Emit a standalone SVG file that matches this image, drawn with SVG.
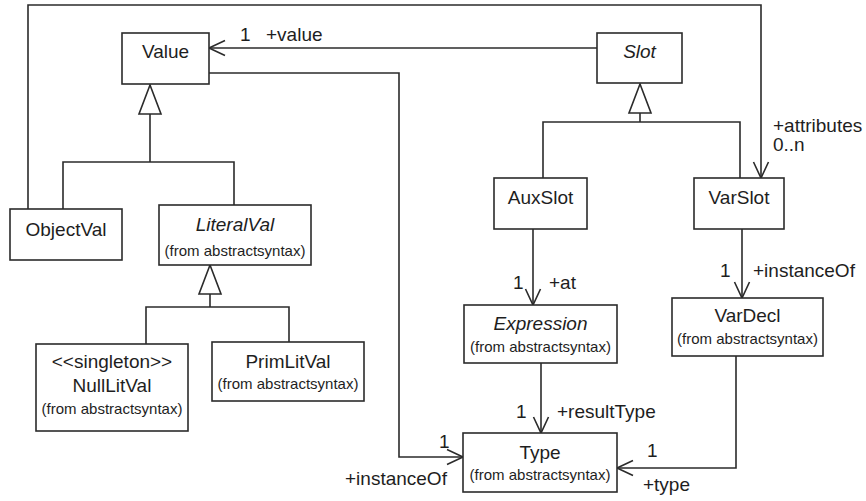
<svg xmlns="http://www.w3.org/2000/svg" width="866" height="501" viewBox="0 0 866 501">
  <style>
    .box { fill: #ffffff; stroke: #2b2b2b; stroke-width: 1.6; }
    .edge { fill: none; stroke: #2b2b2b; stroke-width: 1.6; }
    text { font-family: "Liberation Sans", Arial, sans-serif; fill: #1e1e1e; }
    .name { font-size: 19px; text-anchor: middle; }
    .abs { font-style: italic; }
    .pkg { font-size: 15px; text-anchor: middle; }
    .lbl { font-size: 19px; }
  </style>
  <defs>
    <marker id="open" markerUnits="userSpaceOnUse" markerWidth="20" markerHeight="20" viewBox="-18 -10 20 20" refX="0" refY="0" orient="auto">
      <path d="M -16 -7.5 L 0 0 L -16 7.5" fill="none" stroke="#2b2b2b" stroke-width="1.6"/>
    </marker>
    <marker id="gen" markerUnits="userSpaceOnUse" markerWidth="34" markerHeight="28" viewBox="-32 -13 34 26" refX="0" refY="0" orient="auto">
      <path d="M 0 0 L -29 -11 L -29 11 Z" fill="#ffffff" stroke="#2b2b2b" stroke-width="1.6"/>
    </marker>
  </defs>

  <!-- connectors -->
  <g id="connectors">
    <!-- generalizations -->
    <path class="edge" d="M 63 209 V 162 H 234 V 205"/>
    <path class="edge" d="M 150 162 V 85" marker-end="url(#gen)"/>
    <path class="edge" d="M 146 344 V 307 H 289 V 342"/>
    <path class="edge" d="M 210 307 V 265" marker-end="url(#gen)"/>
    <path class="edge" d="M 543 178 V 122 H 740 V 178"/>
    <path class="edge" d="M 640 122 V 84" marker-end="url(#gen)"/>
    <!-- associations -->
    <path class="edge" d="M 597 48 H 209" marker-end="url(#open)"/>
    <path class="edge" d="M 28 209 V 5 H 761 V 178" marker-end="url(#open)"/>
    <path class="edge" d="M 209 73 H 399 V 457 H 463" marker-end="url(#open)"/>
    <path class="edge" d="M 533 229 V 305" marker-end="url(#open)"/>
    <path class="edge" d="M 742 229 V 298" marker-end="url(#open)"/>
    <path class="edge" d="M 541 363 V 433" marker-end="url(#open)"/>
    <path class="edge" d="M 736 356 V 468 H 617" marker-end="url(#open)"/>

    <!-- role names and multiplicities -->
    <text class="lbl" x="240" y="41">1</text>
    <text class="lbl" x="266" y="41">+value</text>
    <text class="lbl" x="773" y="132">+attributes</text>
    <text class="lbl" x="773" y="151">0..n</text>
    <text class="lbl" x="513" y="289">1</text>
    <text class="lbl" x="549" y="289">+at</text>
    <text class="lbl" x="720" y="277">1</text>
    <text class="lbl" x="753" y="277">+instanceOf</text>
    <text class="lbl" x="516" y="418">1</text>
    <text class="lbl" x="557" y="418">+resultType</text>
    <text class="lbl" x="439" y="448">1</text>
    <text class="lbl" x="345" y="485">+instanceOf</text>
    <text class="lbl" x="647" y="457">1</text>
    <text class="lbl" x="643" y="491">+type</text>
  </g>

  <!-- classes -->
  <g id="Value">
    <rect class="box" x="122" y="33" width="87" height="51"/>
    <text class="name" x="165.5" y="58">Value</text>
  </g>
  <g id="Slot">
    <rect class="box" x="597" y="33" width="85" height="50"/>
    <text class="name abs" x="639.5" y="58">Slot</text>
  </g>
  <g id="ObjectVal">
    <rect class="box" x="10" y="209" width="112" height="51"/>
    <text class="name" x="66" y="236">ObjectVal</text>
  </g>
  <g id="LiteralVal">
    <rect class="box" x="159" y="205" width="152" height="60"/>
    <text class="name abs" x="235" y="231">LiteralVal</text>
    <text class="pkg" x="235" y="256">(from abstractsyntax)</text>
  </g>
  <g id="NullLitVal">
    <rect class="box" x="36" y="344" width="152" height="87"/>
    <text class="name" x="112" y="368">&lt;&lt;singleton&gt;&gt;</text>
    <text class="name" x="112" y="392">NullLitVal</text>
    <text class="pkg" x="112" y="414">(from abstractsyntax)</text>
  </g>
  <g id="PrimLitVal">
    <rect class="box" x="212" y="342" width="152" height="59"/>
    <text class="name" x="288" y="368">PrimLitVal</text>
    <text class="pkg" x="288" y="389">(from abstractsyntax)</text>
  </g>
  <g id="AuxSlot">
    <rect class="box" x="494" y="178" width="93" height="51"/>
    <text class="name" x="540.5" y="204">AuxSlot</text>
  </g>
  <g id="VarSlot">
    <rect class="box" x="694" y="178" width="90" height="51"/>
    <text class="name" x="739" y="204">VarSlot</text>
  </g>
  <g id="Expression">
    <rect class="box" x="464" y="305" width="153" height="58"/>
    <text class="name abs" x="540.5" y="330">Expression</text>
    <text class="pkg" x="540.5" y="352">(from abstractsyntax)</text>
  </g>
  <g id="VarDecl">
    <rect class="box" x="672" y="298" width="151" height="58"/>
    <text class="name" x="747.5" y="322">VarDecl</text>
    <text class="pkg" x="747.5" y="344">(from abstractsyntax)</text>
  </g>
  <g id="Type">
    <rect class="box" x="463" y="433" width="154" height="59"/>
    <text class="name" x="540" y="459">Type</text>
    <text class="pkg" x="540" y="480">(from abstractsyntax)</text>
  </g>
</svg>
